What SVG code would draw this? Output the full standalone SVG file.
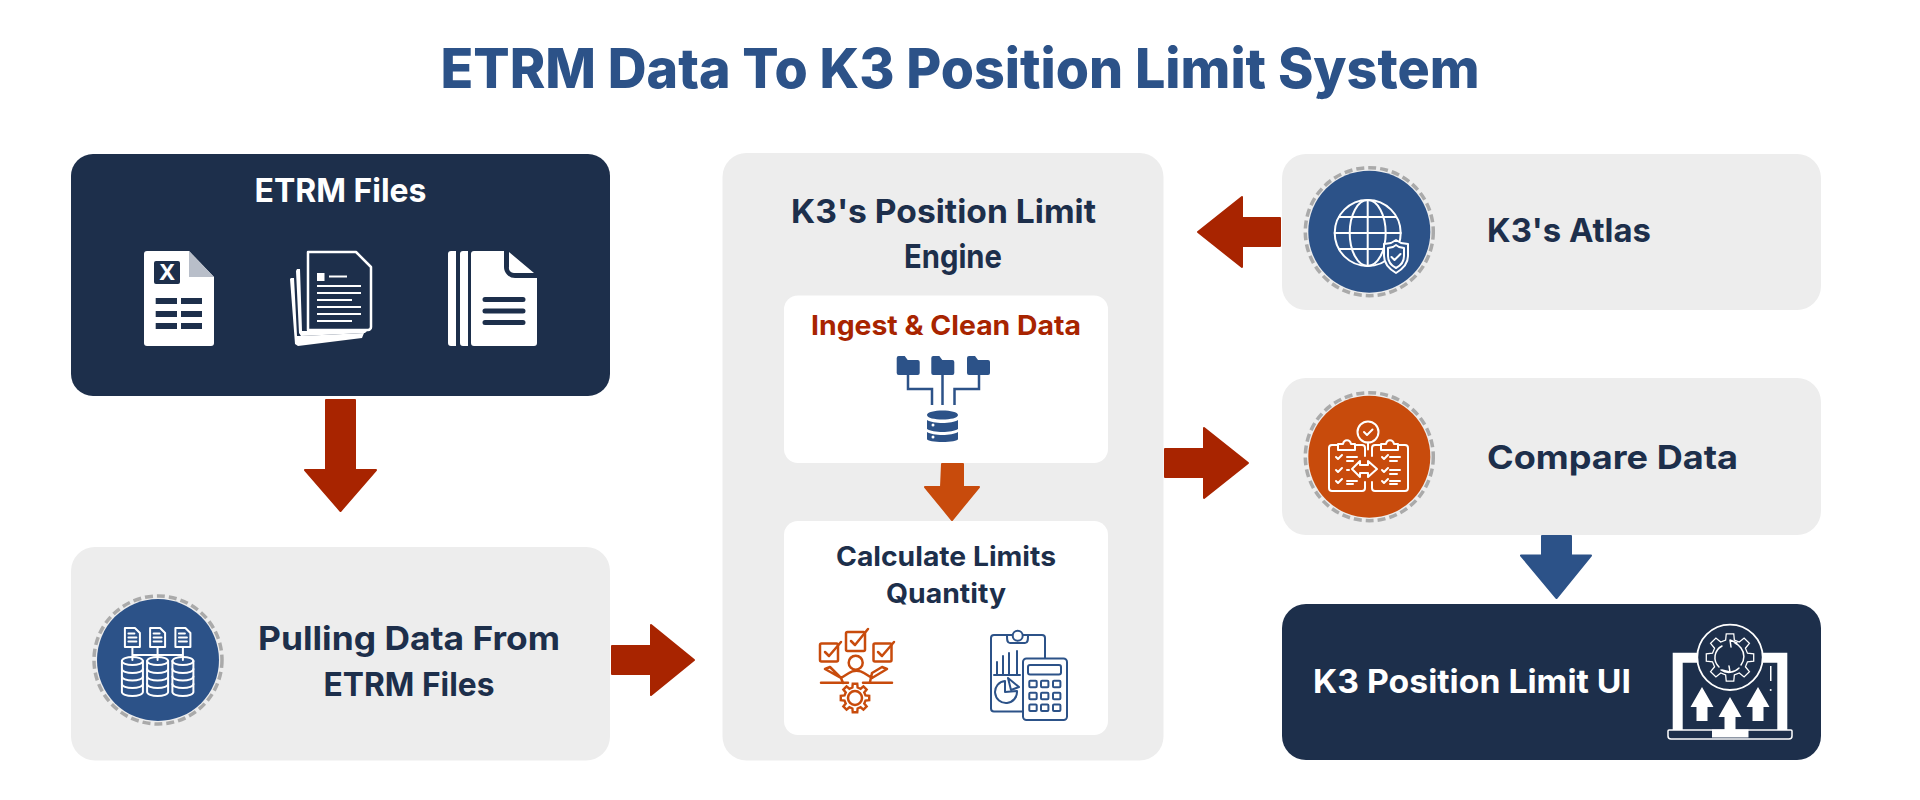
<svg xmlns="http://www.w3.org/2000/svg" xmlns:xlink="http://www.w3.org/1999/xlink" width="1920" height="800" viewBox="0 0 1920 800">
<style>
text{font-family:"Inter","Liberation Sans",sans-serif;font-weight:700;text-anchor:middle}
.t{fill:#1d2f4b;font-size:33px}
.g{fill:#ededed}.n{fill:#1d2f4b}.w{fill:#fff}
.ring{fill:none;stroke:#aaa;stroke-width:3.5;stroke-dasharray:8 4}
.cb{fill:#2c5288}.co{fill:#c84b0c}
.wl{fill:none;stroke:#fff;stroke-width:2;stroke-linecap:round;stroke-linejoin:round}
.bl{fill:none;stroke:#2c5288;stroke-width:2.5;stroke-linecap:round;stroke-linejoin:round}
.ol{fill:none;stroke:#c84b0c;stroke-width:2.5;stroke-linecap:round;stroke-linejoin:round}
.ar{stroke-width:2;stroke-linejoin:round}
.red{fill:#a82400;stroke:#a82400}.org{fill:#c84b0c;stroke:#c84b0c}.blu{fill:#2c5288;stroke:#2c5288}
</style>
<defs>
<path id="gear" d="M-4.35-17.47L-3.75-23.7 3.75-23.7 4.35-17.47 9.28-15.43 14.1-19.41 19.41-14.1 15.43-9.28 17.47-4.35 23.7-3.75 23.7 3.75 17.47 4.35 15.43 9.28 19.41 14.1 14.1 19.41 9.28 15.43 4.35 17.47 3.75 23.7-3.75 23.7-4.35 17.47-9.28 15.43-14.1 19.41-19.41 14.1-15.43 9.28-17.47 4.35-23.7 3.75-23.7-3.75-17.47-4.35-15.43-9.28-19.41-14.1-14.1-19.41-9.28-15.43Z"/>
<g id="cyl"><path d="M-10.5-31v31a10.500 4 0 0 0 21 0v-31" class="wl"/><ellipse cy="-31" rx="10.500" ry="4" class="wl"/><path d="M-10.5-23a10.500 4 0 0 0 21 0M-10.5-15.500a10.500 4 0 0 0 21 0M-10.5-8a10.500 4 0 0 0 21 0" class="wl"/></g>
<g id="minidoc"><path d="M-7.500-9.500h10l5 5v14h-15z" class="wl"/><path d="M-4-4h6M-4 0h8M-4 4h8" class="wl" stroke-width="1.500"/></g>
<path id="folder" d="M0 2a2 2 0 0 1 2-2h6l3 4h10a2 2 0 0 1 2 2v11a2 2 0 0 1-2 2H2a2 2 0 0 1-2-2Z" class="cb"/>
<path id="chk" d="M0 3l3 3 6-6" class="wl" stroke-width="2.500"/>
</defs>

<text x="960" y="88" font-size="55" style="fill:#2c5288;font-weight:800" textLength="1039" lengthAdjust="spacingAndGlyphs">ETRM Data To K3 Position Limit System</text>

<g id="node-etrm-files">
<rect class="n" x="71" y="154" width="539" height="242" rx="22"/>
<text x="340.500" y="201.500" font-size="33" class="w" textLength="172" lengthAdjust="spacingAndGlyphs">ETRM Files</text>
<path class="w" d="M144 254a3 3 0 0 1 3-3h42l25 26v66a3 3 0 0 1-3 3h-64a3 3 0 0 1-3-3Z"/>
<path fill="#b8bec9" d="M189 251l25 26h-25z"/>
<rect class="n" x="154" y="261" width="26" height="23" rx="2"/>
<text x="167" y="280" font-size="22" class="w">X</text>
<path class="n" d="M155.700 298h21.300v6h-21.300zM181 298h21v6h-21zM155.700 311h21.300v6h-21.300zM181 311h21v6h-21zM155.700 323h21.300v6h-21.300zM181 323h21v6h-21z"/>
<g id="docstack">
<path class="w" d="M292 278l-1 0-1 1 5 65 3 2 64-8 2-5-64 3-3 0-3-58z"/>
<path class="w" d="M300 269l-3 0-1 2 3 62 2 3 64-3 2-2-65 0-2-62z"/>
<path d="M308 252h48l15 15v60a3 3 0 0 1-3 3h-60z" fill="#1d2f4b" stroke="#fff" stroke-width="2.500" stroke-linejoin="round"/>
<rect class="w" x="317" y="273" width="7.500" height="8"/>
<path d="M329 276.500h18M317 286h44M317 293h44M317 300h35M317 307h44M317 314h44M317 321h35" stroke="#fff" stroke-width="2"/>
</g>
<path class="w" d="M448 254a3 3 0 0 1 3-3h5v95h-5a3 3 0 0 1-3-3zM460 254a3 3 0 0 1 3-3h5v95h-5a3 3 0 0 1-3-3z"/>
<path class="w" d="M471 254a3 3 0 0 1 3-3h30v16a11 11 0 0 0 11 11h22v65a3 3 0 0 1-3 3h-60a3 3 0 0 1-3-3z"/>
<path class="w" d="M509 252v15a5 5 0 0 0 5 6h20z"/>
<path d="M485 299.500h38M485 311h38M485 322.500h38" stroke="#1d2f4b" stroke-width="5" stroke-linecap="round"/>
</g>

<g id="node-pulling">
<rect class="g" x="71" y="547" width="539" height="213.500" rx="24"/>
<circle class="cb" cx="158" cy="660" r="61"/>
<circle class="ring" cx="158" cy="660" r="64"/>
<use xlink:href="#minidoc" href="#minidoc" x="132.400" y="637.500"/>
<use xlink:href="#minidoc" href="#minidoc" x="157.600" y="637.500"/>
<use xlink:href="#minidoc" href="#minidoc" x="182.900" y="637.500"/>
<path class="wl" d="M132.400 647v13M157.600 647v13M182.900 647v13M132.400 655h50.500"/>
<use xlink:href="#cyl" href="#cyl" x="132.400" y="692"/>
<use xlink:href="#cyl" href="#cyl" x="157.600" y="692"/>
<use xlink:href="#cyl" href="#cyl" x="182.900" y="692"/>
<text class="t" x="409" y="650" textLength="302" lengthAdjust="spacingAndGlyphs">Pulling Data From</text>
<text class="t" x="409" y="696" textLength="171" lengthAdjust="spacingAndGlyphs">ETRM Files</text>
</g>

<g id="node-engine">
<rect class="g" x="722.500" y="153" width="441" height="607.500" rx="24"/>
<text class="t" x="943.500" y="222.500" textLength="305" lengthAdjust="spacingAndGlyphs">K3's Position Limit</text>
<text class="t" x="953" y="267.500" textLength="98" lengthAdjust="spacingAndGlyphs">Engine</text>
</g>

<g id="node-ingest">
<rect class="w" x="784" y="295.500" width="324" height="167.500" rx="14"/>
<text x="946" y="335" font-size="27" style="fill:#a82400" textLength="270" lengthAdjust="spacingAndGlyphs">Ingest &amp; Clean Data</text>
<use xlink:href="#folder" href="#folder" x="896.700" y="356"/>
<use xlink:href="#folder" href="#folder" x="931.300" y="356"/>
<use xlink:href="#folder" href="#folder" x="967" y="356"/>
<path d="M908 375v14h24v16M942.500 375v30M979 375v14h-24.500v16" fill="none" stroke="#2c5288" stroke-width="2.500"/>
<path class="cb" d="M927 415c0-6 31-6 31 0s-31 6-31 0zM927 420c6 4 25 4 31 0v9c-6 4-25 4-31 0zM927 432c6 4 25 4 31 0v7c0 4-31 4-31 0z"/>
<circle class="w" cx="933" cy="425" r="1.500"/><circle class="w" cx="933" cy="437" r="1.500"/>
</g>

<g id="node-calculate">
<rect class="w" x="784" y="521" width="324" height="214" rx="14"/>
<text x="946" y="565.500" font-size="27" style="fill:#1d2f4b" textLength="220" lengthAdjust="spacingAndGlyphs">Calculate Limits</text>
<text x="946" y="602.500" font-size="27" style="fill:#1d2f4b" textLength="120" lengthAdjust="spacingAndGlyphs">Quantity</text>
<g class="ol">
<rect x="820" y="643.500" width="18" height="18" rx="1.500"/>
<rect x="846" y="632" width="19" height="19" rx="1.500"/>
<rect x="873.500" y="643.500" width="18" height="18" rx="1.500"/>
<path d="M825 652l4 4 12-14M851 641l4 4 13-16M878 652l4 4 12-14"/>
<circle cx="855.700" cy="662.700" r="7"/>
<path d="M825 669l16 9 8-5c4-3 11-3 15 0l8 5 15-9-5-2-10 6-2 9M825 669l5-2 11 11 2 5"/>
<path d="M821 682.700h27M863 682.700h29"/>
</g>
<use xlink:href="#gear" href="#gear" transform="translate(855 698) scale(.6)" fill="none" stroke="#c84b0c" stroke-width="4"/>
<circle class="ol" cx="855" cy="698" r="7"/>
<g class="bl" style="stroke-width:2">
<path d="M1022 711.500h-28a3 3 0 0 1-3-3V638a3 3 0 0 1 3-3h48a3 3 0 0 1 3 3v20"/>
<path d="M1007 636c0 4 0 7 3 7h15c3 0 3-3 3-7"/>
<circle cx="1017.700" cy="635.700" r="5" fill="#fff"/>
<path d="M994 675h26M997 675v-13M1003 675v-19M1009 675v-22M1017 675v-24"/>
<path d="M1017 691a11 11 0 1 1-12-10v11z"/>
<path d="M1008 678l11 9-8 3z"/>
<rect x="1023" y="658.500" width="44" height="61.500" rx="3.500" fill="#fff"/>
<rect x="1028" y="665" width="33" height="9.500" rx="2"/>
<rect x="1029.300" y="680.700" width="7.400" height="6.600" rx="1"/><rect x="1041" y="680.700" width="7.400" height="6.600" rx="1"/><rect x="1053" y="680.700" width="7.400" height="6.600" rx="1"/>
<rect x="1029.300" y="692.700" width="7.400" height="6.600" rx="1"/><rect x="1041" y="692.700" width="7.400" height="6.600" rx="1"/><rect x="1053" y="692.700" width="7.400" height="6.600" rx="1"/>
<rect x="1029.300" y="704.500" width="7.400" height="6.600" rx="1"/><rect x="1041" y="704.500" width="7.400" height="6.600" rx="1"/><rect x="1053" y="704.500" width="7.400" height="6.600" rx="1"/>
</g>
</g>

<g id="node-atlas">
<rect class="g" x="1282" y="154" width="539" height="156" rx="24"/>
<circle class="cb" cx="1369.300" cy="231.700" r="61"/>
<circle class="ring" cx="1369.300" cy="231.700" r="64"/>
<g class="wl">
<circle cx="1367.700" cy="233" r="33"/>
<ellipse cx="1367.700" cy="233" rx="18" ry="33"/>
<path d="M1367.700 200v66M1334.700 233h66M1339 217h57M1339 249h57"/>
</g>
<path d="M1396 240l5 3 7 1v12c0 8-7 14-12 17-5-3-12-9-12-17v-12l7-1z" fill="#2c5288" stroke="#fff" stroke-width="2" stroke-linejoin="round"/>
<path d="M1396 245l3 2 5 1v8c0 6-4 10-8 12-4-2-8-6-8-12v-8l5-1z" class="wl" stroke-width="1.500"/>
<use xlink:href="#chk" href="#chk" x="1391.500" y="254"/>
<text class="t" x="1569" y="242" textLength="164" lengthAdjust="spacingAndGlyphs">K3's Atlas</text>
</g>

<g id="node-compare">
<rect class="g" x="1282" y="378" width="539" height="157" rx="24"/>
<circle class="co" cx="1369.300" cy="456.700" r="61"/>
<circle class="ring" cx="1369.300" cy="456.700" r="64"/>
<g class="wl">
<circle cx="1368" cy="432" r="10.500"/>
<path d="M1364 432l3 3 5.500-5.500M1368 442.500v7"/>
<path d="M1338 445h-6a3 3 0 0 0-3 3v40a3 3 0 0 0 3 3h30a3 3 0 0 0 3-3v-6M1355 445h7a3 3 0 0 1 3 3v8"/>
<path d="M1381 445h-6a3 3 0 0 0-3 3v8M1372 482v6a3 3 0 0 0 3 3h30a3 3 0 0 0 3-3v-40a3 3 0 0 0-3-3h-7"/>
<path d="M1338 450v-6h5c1-5 7-5 8 0h4v6zM1381 450v-6h5c1-5 7-5 8 0h4v6z"/>
<path d="M1352 469l8-8v4h8v-4l9 8-9 8v-4h-8v4z"/>
<path d="M1347 457h10M1347 461h6M1347 470h2M1347 481h10M1347 484h6M1390 457h10M1390 461h7M1390 470h10M1390 474h7M1390 481h10M1390 484h7"/>
<path d="M1336 457l2 2 4-4M1336 470l2 2 4-4M1336 481l2 2 4-4M1382 457l2 2 4-4M1382 470l2 2 4-4M1382 481l2 2 4-4"/>
</g>
<text class="t" x="1612.500" y="468.500" textLength="251" lengthAdjust="spacingAndGlyphs">Compare Data</text>
</g>

<g id="node-ui">
<rect class="n" x="1282" y="604" width="539" height="156" rx="24"/>
<text x="1472" y="692.500" font-size="33" class="w" textLength="318" lengthAdjust="spacingAndGlyphs">K3 Position Limit UI</text>
<path class="w" fill-rule="evenodd" d="M1672.700 652.700h114.600v79h-114.600zM1682.700 662.700v69h94.600v-69z"/>
<path d="M1669 730h122a1 1 0 0 1 1 1v5a3 3 0 0 1-3 3h-118a3 3 0 0 1-3-3v-5a1 1 0 0 1 1-1z" fill="#1d2f4b" stroke="#fff" stroke-width="1.500"/>
<rect class="w" x="1712" y="729.500" width="36.500" height="8"/>
<path class="w" d="M1702 687l11.500 20h-6v14h-11v-14h-6zM1730 697l11.500 20h-6v14h-11v-14h-6zM1758 687l11.500 20h-6v14h-11v-14h-6z"/>
<rect class="w" x="1770" y="666" width="1.500" height="15"/><circle class="w" cx="1770.700" cy="690" r="1"/>
<circle cx="1730" cy="657.300" r="32.700" fill="#1d2f4b" stroke="#fff" stroke-width="1.800"/>
<use xlink:href="#gear" href="#gear" transform="translate(1730 657.500)" fill="none" stroke="#fff" stroke-width="1.300"/>
<path class="wl" style="stroke-width:1.500" d="M1739 668a14 14 0 0 1-18 2M1719 667a13 13 0 0 1 3-21M1722 670l8 2-1-6M1741 648a14 14 0 0 0-6-5M1737 643l-7-3 1 7M1741 648a14 14 0 0 1 0 17"/>
</g>

<g id="connectors">
<path class="ar red" d="M326 400h29v70h21l-35.500 41L305 470h21z"/>
<path class="ar red" d="M612 646h39v-21l43 35-43 35v-21h-39z"/>
<path class="ar red" d="M1280 218h-38v-21l-44 35 44 35v-21h38z"/>
<path class="ar red" d="M1165 449h39v-21l44 35-44 35v-21h-39z"/>
<path class="ar org" d="M942 464h21v23h16l-27 33-27-33h16z"/>
<path class="ar blu" d="M1542 536h29v19.500h20l-34.500 42.500-35.500-42.500h21z"/>
</g>
</svg>
